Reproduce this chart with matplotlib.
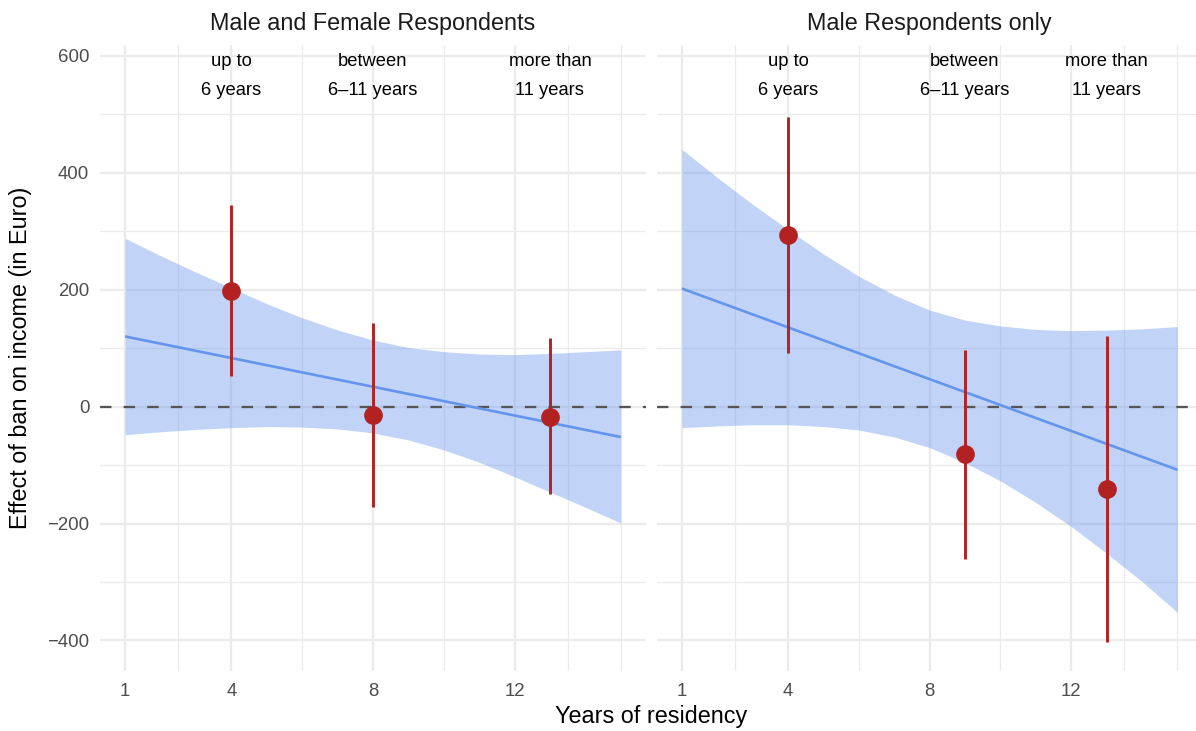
import matplotlib
matplotlib.use("Agg")
import matplotlib.pyplot as plt

plt.rcParams['font.family'] = ['Liberation Sans', 'DejaVu Sans']

# ---------------- data ----------------
panel_titles = ["Male and Female Respondents", "Male Respondents only"]

# fitted line (end points)
line_x = [1, 15]
left_line_y = [120, -52]
right_line_y = [202, -108]

# confidence ribbon
band_x = [1, 2, 3, 4, 5, 6, 7, 8, 9, 10, 11, 12, 13, 14, 15]
left_band_hi = [288, 258, 230, 203, 176, 152, 131, 114, 101, 94, 90, 89, 91, 94, 97]
left_band_lo = [-48, -43, -39, -36, -34, -35, -38, -45, -57, -74, -95, -120, -146, -172, -199]
right_band_hi = [440, 392, 346, 303, 261, 223, 191, 165, 148, 138, 132, 130, 131, 133, 137]
right_band_lo = [-36, -33, -31, -31, -34, -40, -52, -70, -96, -127, -164, -205, -251, -299, -352]

# point estimates with intervals
left_pt_x = [4, 8, 13]
left_pt_y = [198, -14, -17]
left_pt_lo = [52, -172, -150]
left_pt_hi = [345, 143, 117]

right_pt_x = [4, 9, 13]
right_pt_y = [294, -81, -141]
right_pt_lo = [92, -260, -403]
right_pt_hi = [496, 97, 121]

# group annotations
group_labels = ["up to\n6 years", "between\n6\u201311 years", "more than\n11 years"]
left_label_x = [4, 8, 13]
right_label_x = [4, 9, 13]
label_y = 566

x_ticks = [1, 4, 8, 12]
x_minor = [2.5, 6, 10, 13.5, 15]
y_ticks = [-400, -200, 0, 200, 400, 600]
y_minor = [-300, -100, 100, 300, 500]

# ---------------- drawing ----------------
W, H = 1196, 731
fig = plt.figure(figsize=(W / 100, H / 100), dpi=100)
fig.patch.set_facecolor("white")

ax_w = 545.1 / W
ax_h = 625.6 / H
ax_b = (H - 670.9) / H
axL = fig.add_axes([100.4 / W, ax_b, ax_w, ax_h])
axR = fig.add_axes([657.1 / W, ax_b, ax_w, ax_h])

grid_col = "#EBEBEB"
blue = "#6495ED"
red = "#B22222"

panels = [
    (axL, left_line_y, left_band_lo, left_band_hi, left_pt_x, left_pt_y, left_pt_lo, left_pt_hi, left_label_x, panel_titles[0]),
    (axR, right_line_y, right_band_lo, right_band_hi, right_pt_x, right_pt_y, right_pt_lo, right_pt_hi, right_label_x, panel_titles[1]),
]

for i, (ax, ly, blo, bhi, px, py, plo, phi, lx, title) in enumerate(panels):
    ax.set_xlim(0.3, 15.7)
    ax.set_ylim(-452, 618)
    for s in ax.spines.values():
        s.set_visible(False)
    ax.set_facecolor("white")
    # grid
    for v in x_minor:
        ax.axvline(v, color=grid_col, lw=0.9, zorder=0)
    for v in y_minor:
        ax.axhline(v, color=grid_col, lw=0.9, zorder=0)
    for v in x_ticks:
        ax.axvline(v, color=grid_col, lw=1.6, zorder=0)
    for v in y_ticks:
        ax.axhline(v, color=grid_col, lw=1.6, zorder=0)

    ax.fill_between(band_x, blo, bhi, color=blue, alpha=0.4, lw=0, zorder=1)
    ax.axhline(0, color="#555555", lw=1.65, linestyle=(0, (5.0, 5.3)), zorder=2)
    ax.plot(line_x, ly, color=blue, lw=1.9, zorder=3, solid_capstyle="butt")
    ax.vlines(px, plo, phi, color=red, lw=2.1, zorder=4)
    ax.plot(px, py, "o", color=red, ms=13.5, mec="none", zorder=5)

    for t, x in zip(group_labels, lx):
        ax.text(x, label_y, t, ha="center", va="center", multialignment="center",
                fontsize=13.2, color="black", linespacing=1.95, zorder=6)

    ax.set_xticks(x_ticks)
    ax.set_xticklabels([str(v) for v in x_ticks])
    ax.set_yticks(y_ticks)
    ax.set_yticklabels([("\u2212" + str(-v)) if v < 0 else str(v) for v in y_ticks])
    ax.tick_params(axis="both", length=0, labelsize=13.4, labelcolor="#4D4D4D")
    ax.tick_params(axis="x", pad=8.5)
    ax.tick_params(axis="y", pad=8)
    if i == 1:
        ax.tick_params(axis="y", labelleft=False)

    ax.set_title(title, fontsize=16.8, color="#1A1A1A", pad=11)

fig.text(651.3 / W, 1 - 717 / H, "Years of residency", ha="center", va="center",
         fontsize=16.8, color="black")
fig.text(21 / W, 1 - 358 / H, "Effect of ban on income (in Euro)", ha="center", va="center",
         rotation=90, fontsize=16.8, color="black")

fig.savefig("out.png", dpi=100, facecolor="white")
